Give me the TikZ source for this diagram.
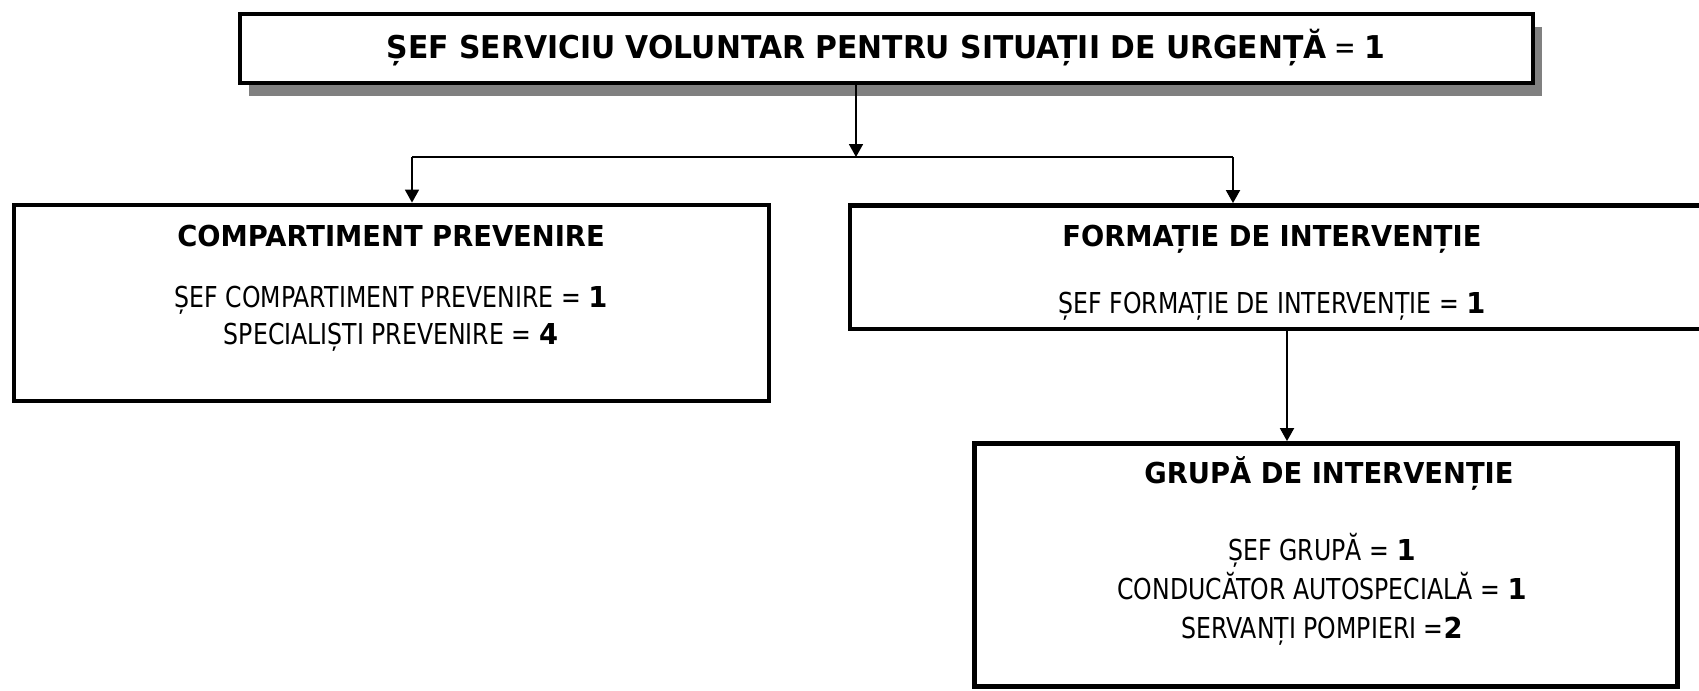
\documentclass[tikz,border=0pt]{standalone}
\usepackage{fontspec}
\setmainfont{DejaVu Sans}[FakeStretch=0.82,BoldFeatures={FakeStretch=0.95}]
\usetikzlibrary{arrows.meta,shadows}
\tikzset{
    BOX/.style ={rectangle, draw, line width=2.4pt, inner sep=0pt},
    SH/.style ={fill=white, drop shadow={shadow xshift=4.5pt, shadow yshift=-6.5pt, fill=black!50, opacity=1}},
    TX/.style ={inner sep=0pt, anchor=base, font=\fontsize{14.4}{17}\selectfont},
    TT/.style ={inner sep=0pt, anchor=base, font=\fontsize{15.7}{18}\selectfont},
    LN/.style ={line width=0.9pt},
    AR/.style ={line width=0.9pt, -{Triangle[width=7pt,length=6.5pt]}}}

\begin{document}
\begin{tikzpicture}[x=0.5pt,y=-0.5pt]
    \useasboundingbox (0,0) rectangle (1699,691);
    % boxes
    \node[BOX,SH,minimum width=646.5pt,minimum height=34.5pt] (sef) at (886.5,48.5) {};
    \node[BOX,minimum width=377.5pt,minimum height=98pt] (comp) at (391.5,303) {};
    \node[BOX,minimum width=435pt,minimum height=61.75pt] (form) at (1285,267.25) {};
    \node[BOX,minimum width=351.75pt,minimum height=121.5pt] (grupa) at (1326,565) {};
    % texts
    \node[TT] (t0) at (886,58.5) {\textbf{ȘEF SERVICIU VOLUNTAR PENTRU SITUAȚII DE URGENȚĂ} = \textbf{1}};
    \node[TX] (c0) at (391,246.5) {\textbf{COMPARTIMENT PREVENIRE}};
    \node[TX] (c1) at (391,307.5) {ȘEF COMPARTIMENT PREVENIRE = \textbf{1}};
    \node[TX] (c2) at (391,344.5) {SPECIALIȘTI PREVENIRE = \textbf{4}};
    \node[TX] (f0) at (1272,246.5) {\textbf{FORMAȚIE DE INTERVENȚIE}};
    \node[TX] (f1) at (1272,313.5) {ȘEF FORMAȚIE DE INTERVENȚIE = \textbf{1}};
    \node[TX] (g0) at (1329,483.5) {\textbf{GRUPĂ DE INTERVENȚIE}};
    \node[TX] (g1) at (1322,560.5) {ȘEF GRUPĂ = \textbf{1}};
    \node[TX] (g2) at (1322,599.5) {CONDUCĂTOR AUTOSPECIALĂ = \textbf{1}};
    \node[TX] (g3) at (1322,638.5) {SERVANȚI POMPIERI =\textbf{2}};
    % connectors
    \coordinate (j) at (856,157);
    \coordinate (jl) at (412,157);
    \coordinate (jr) at (1233,157);
    \coordinate (k) at (1287,0);
    \draw[AR] (sef.south -| j) -- (j);
    \draw[LN] (jl) -- (jr);
    \draw[AR] (jl) -- (jl |- comp.north);
    \draw[AR] (jr) -- (jr |- form.north);
    \draw[AR] (form.south -| k) -- (grupa.north -| k);
\end{tikzpicture}
\end{document}
